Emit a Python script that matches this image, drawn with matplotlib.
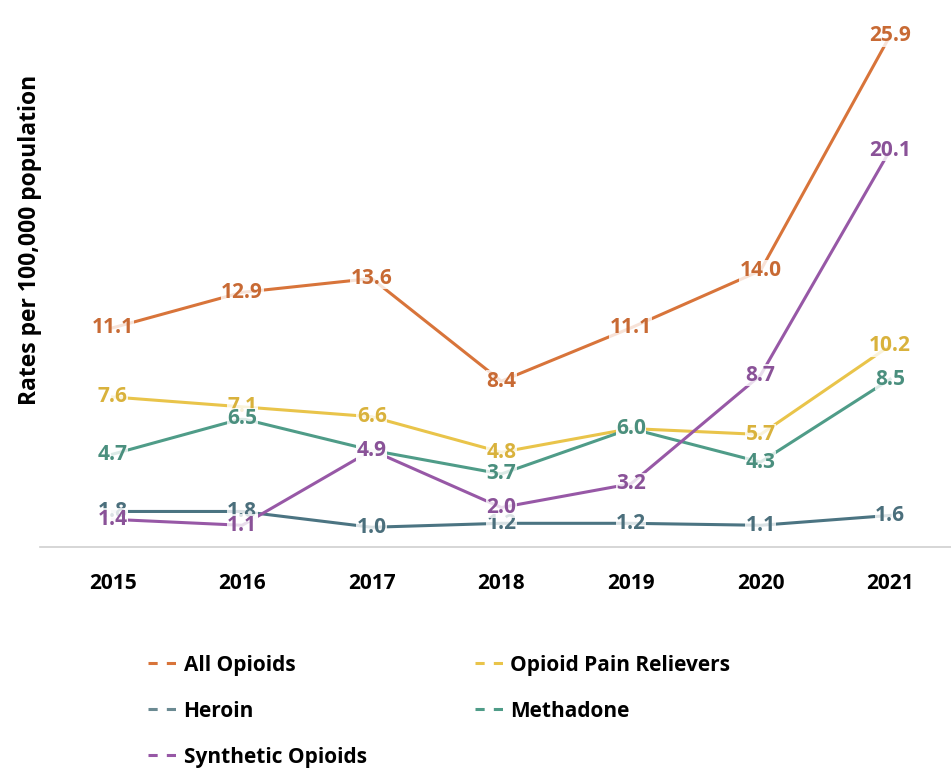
import matplotlib
matplotlib.use("Agg")
import matplotlib.pyplot as plt
from matplotlib.lines import Line2D

years = ["2015", "2016", "2017", "2018", "2019", "2020", "2021"]
all_opioids = [11.1, 12.9, 13.6, 8.4, 11.1, 14.0, 25.9]
pain_relievers = [7.6, 7.1, 6.6, 4.8, 6.0, 5.7, 10.2]
heroin = [4.7, 6.5, 4.9, 3.7, 6.0, 4.3, 8.5]
methadone = [1.8, 1.8, 1.0, 1.2, 1.2, 1.1, 1.6]
synthetic = [1.4, 1.1, 4.9, 2.0, 3.2, 8.7, 20.1]

series = [
    ("All Opioids", all_opioids, "#d8743a", "#c86a34"),
    ("Opioid Pain Relievers", pain_relievers, "#e9c44a", "#d9b23c"),
    ("Heroin", heroin, "#4f9c88", "#4a8f7e"),
    ("Methadone", methadone, "#4b7482", "#4b6f7c"),
    ("Synthetic Opioids", synthetic, "#9758a6", "#8a5298"),
]
# legend colours as in the original
legend_colors = ["#d8743a", "#e9c44a", "#6b8a92", "#4f9c88", "#9758a6"]

plt.rcParams["font.family"] = ["Open Sans", "DejaVu Sans"]

fig = plt.figure(figsize=(9.51, 7.68), dpi=100)
ax = fig.add_axes([40 / 951, 1 - 547 / 768, 911 / 951, 537 / 768])

x = list(range(len(years)))
# draw from bottom to top so the purple labels sit on top of the green
order = [3, 2, 1, 0, 4]
for i in order:
    name, vals, col, tcol = series[i]
    ax.plot(x, vals, color=col, lw=2.2, zorder=2 + i)
    for xi, v in zip(x, vals):
        ax.text(xi, v, f"{v:.1f}", ha="center", va="center", fontsize=15,
                fontweight="bold", color=tcol, zorder=10 + i,
                bbox=dict(boxstyle="square,pad=0.02", fc="white", ec="none", alpha=0.8))

ax.set_xlim(-0.56, 6.47)
ax.set_ylim(0, 27.2)
ax.set_xticks(x)
ax.set_xticklabels(years, fontsize=15, fontweight="bold")
ax.set_yticks([])
ax.tick_params(axis="x", length=0, pad=19)
for s in ["top", "right", "left"]:
    ax.spines[s].set_visible(False)
ax.spines["bottom"].set_color("#d0d0d0")
ax.spines["bottom"].set_linewidth(1.2)

fig.text(0.032, 0.6875, "Rates per 100,000 population", rotation=90,
         ha="center", va="center", fontsize=16.5, fontweight="bold")

handles = [Line2D([0], [0], color=c, lw=2.2, linestyle=(0, (3, 3)))
           for c in legend_colors]
labels = [s[0] for s in series]
# legend fills column by column, so reorder to read row by row
idx = [0, 2, 4, 1, 3]
fig.legend([handles[k] for k in idx], [labels[k] for k in idx],
           loc="upper left", bbox_to_anchor=(0.136, 0.172),
           ncol=2, frameon=False, handlelength=1.5,
           handletextpad=0.2, columnspacing=5.2, labelspacing=1.2,
           prop={"weight": "bold", "size": 15})

fig.savefig("out.png", dpi=100)
